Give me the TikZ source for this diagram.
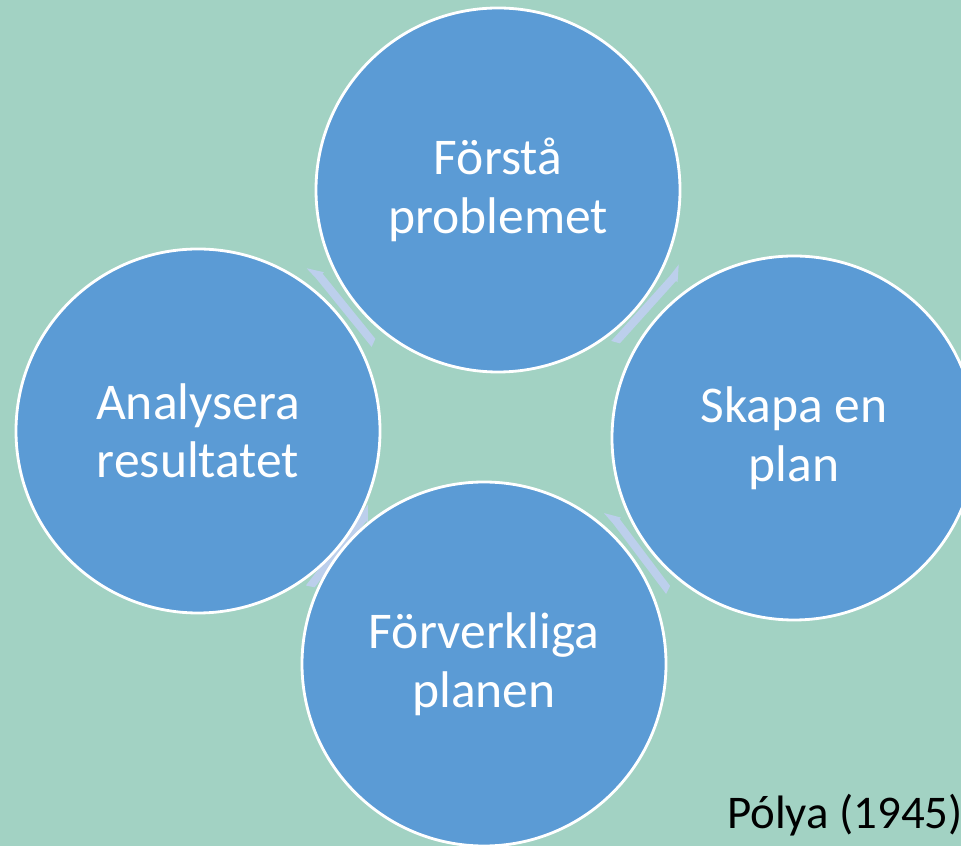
\documentclass[tikz,border=0pt]{standalone}
\usepackage{fontspec}
\setmainfont{Carlito}
\usetikzlibrary{calc}
\usetikzlibrary{positioning}

\definecolor{bggreen}{HTML}{A2D2C3}
\definecolor{stepblue}{HTML}{5B9BD5}
\definecolor{arrowblue}{HTML}{BCCFEC}

\begin{document}
\begin{tikzpicture}[x=0.03cm,y=0.03cm,
		stage/.style={circle,fill=stepblue,draw=white,line width=2.4pt,
			minimum size=10.92cm,inner sep=0pt,text=white,align=center,
			font=\fontsize{44}{50}\selectfont},
		gap/.style={fill=arrowblue}]
		\useasboundingbox (0,0) rectangle (961,846);
		\fill[bggreen] (0,0) rectangle (961,846);
		\clip (0,0) rectangle (961,846);
		% connectors between the stages
		\begin{scope}[shift={(342,542)},rotate=-51]
			\fill[gap] (-50,-5) -- (-36,6) -- (-36,4) -- (48,4) -- (52,-4) -- (-36,-4) -- cycle;
		\end{scope}
		\begin{scope}[shift={(649,541)},rotate=228]
			\fill[gap] (-50,-5) -- (-36,6) -- (-36,4) -- (48,4) -- (52,-4) -- (-36,-4) -- cycle;
		\end{scope}
		\begin{scope}[shift={(638,296)},rotate=-53]
			\fill[gap] (-50,-5) -- (-36,6) -- (-36,4) -- (48,4) -- (52,-4) -- (-36,-4) -- cycle;
		\end{scope}
		\begin{scope}[shift={(341,299)},rotate=232]
			\fill[gap] (-50,-5) -- (-36,6) -- (-36,4) -- (48,4) -- (52,-4) -- (-36,-4) -- cycle;
		\end{scope}
		% the four stages
		\node[stage] (forsta) at (498,656) {Förstå\\problemet};
		\node[stage] (skapa) at (794,408) {Skapa en\\plan};
		\node[stage] (forverkliga) at (484,182) {Förverkliga\\planen};
		\node[stage] (analysera) at (198,415) {Analysera\\resultatet};
		\node[anchor=base west,inner sep=0pt,font=\fontsize{40}{48}\selectfont] (source) at (727,18) {Pólya (1945)};
	\end{tikzpicture}
\end{document}
